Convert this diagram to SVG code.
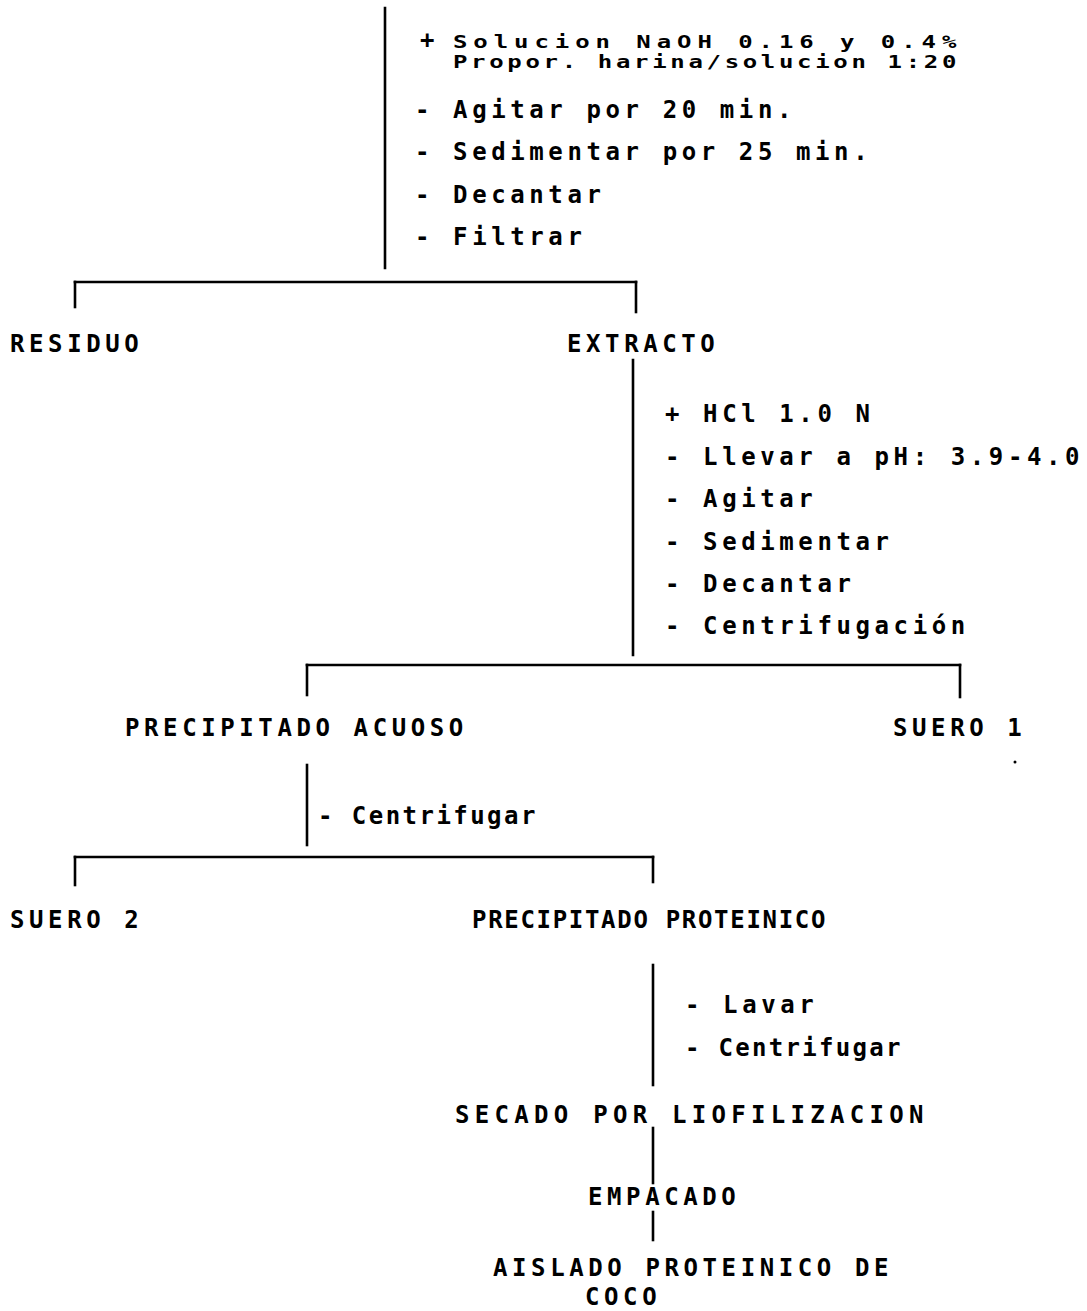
<svg xmlns="http://www.w3.org/2000/svg" width="1087" height="1311" viewBox="0 0 1087 1311">
<style>
.t{font-family:"DejaVu Sans Mono","Liberation Mono",monospace;font-weight:bold;font-size:24px;letter-spacing:4.6px;fill:#000}
.c line{stroke:#000;stroke-width:2.6;stroke-linecap:square}
</style>
<rect width="1087" height="1311" fill="#fff"/>
<g id="connectors" class="c">
<line x1="385" y1="8" x2="385" y2="268"/>
<line x1="75" y1="282" x2="636" y2="282"/>
<line x1="75" y1="282" x2="75" y2="307"/>
<line x1="636" y1="282" x2="636" y2="312"/>
<line x1="633" y1="360" x2="633" y2="655"/>
<line x1="307" y1="665" x2="960" y2="665"/>
<line x1="307" y1="665" x2="307" y2="695"/>
<line x1="960" y1="665" x2="960" y2="697"/>
<line x1="307" y1="765" x2="307" y2="845"/>
<line x1="75" y1="857" x2="653" y2="857"/>
<line x1="75" y1="857" x2="75" y2="885"/>
<line x1="653" y1="857" x2="653" y2="882"/>
<line x1="653" y1="965" x2="653" y2="1085"/>
<line x1="653" y1="1128" x2="653" y2="1183"/>
<line x1="653" y1="1212" x2="653" y2="1240"/>
</g>
<g id="step1">
<text class="t" x="420" y="48">+</text>
<text class="t" transform="translate(453,48) scale(1,0.74)" x="0" y="0" textLength="508" lengthAdjust="spacing">Solucion NaOH 0.16 y 0.4%</text>
<text class="t" transform="translate(453,68) scale(1,0.74)" x="0" y="0" textLength="508" lengthAdjust="spacing">Propor. harina/solucion 1:20</text>
<text class="t" x="415" y="118">- Agitar por 20 min.</text>
<text class="t" x="415" y="160">- Sedimentar por 25 min.</text>
<text class="t" x="415" y="203">- Decantar</text>
<text class="t" x="415" y="245">- Filtrar</text>
</g>
<g id="residuo"><text class="t" x="10" y="352">RESIDUO</text></g>
<g id="extracto"><text class="t" x="567" y="352">EXTRACTO</text></g>
<g id="step2">
<text class="t" x="665" y="422">+ HCl 1.0 N</text>
<text class="t" x="665" y="465">- Llevar a pH: 3.9-4.0</text>
<text class="t" x="665" y="507">- Agitar</text>
<text class="t" x="665" y="550">- Sedimentar</text>
<text class="t" x="665" y="592">- Decantar</text>
<text class="t" x="665" y="634">- Centrifugación</text>
</g>
<g id="precipitado-acuoso"><text class="t" x="125" y="736">PRECIPITADO ACUOSO</text></g>
<g id="suero1"><text class="t" x="893" y="736">SUERO 1</text></g>
<circle cx="1015" cy="762" r="1.5" fill="#000"/>
<g id="step3"><text class="t" x="318" y="824" textLength="222" lengthAdjust="spacing">- Centrifugar</text></g>
<g id="suero2"><text class="t" x="10" y="928">SUERO 2</text></g>
<g id="precipitado-proteinico"><text class="t" x="472" y="928" textLength="358" lengthAdjust="spacing">PRECIPITADO PROTEINICO</text></g>
<g id="step4">
<text class="t" x="685" y="1013">- Lavar</text>
<text class="t" x="685" y="1056" textLength="220" lengthAdjust="spacing">- Centrifugar</text>
</g>
<g id="secado"><text class="t" x="455" y="1123" textLength="473" lengthAdjust="spacing">SECADO POR LIOFILIZACION</text></g>
<g id="empacado"><text class="t" x="588" y="1205">EMPACADO</text></g>
<g id="aislado">
<text class="t" x="493" y="1276">AISLADO PROTEINICO DE</text>
<text class="t" x="585" y="1305">COCO</text>
</g>
</svg>
